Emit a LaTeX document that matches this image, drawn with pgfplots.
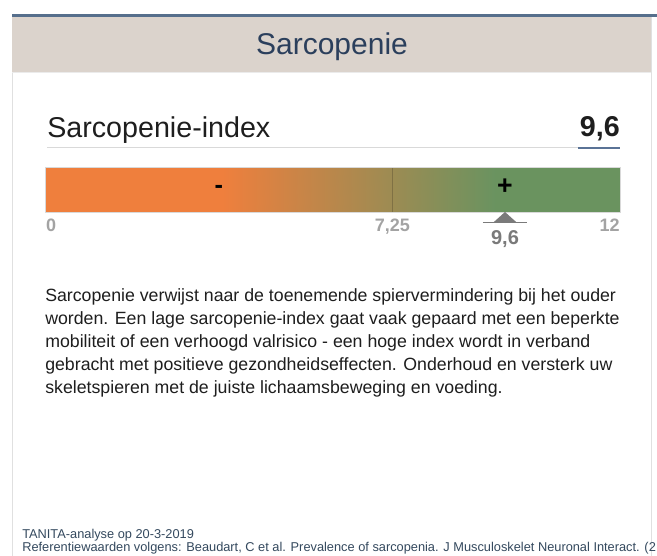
\documentclass[border=0pt]{standalone}
\usepackage{pgfplots}
\pgfplotsset{compat=1.18}
\usepackage{fontspec}
\setmainfont{Liberation Sans}
\definecolor{barorange}{HTML}{EF7F3D}
\definecolor{bargreen}{HTML}{6A935F}
\definecolor{headbg}{HTML}{DBD3CC}
\definecolor{topline}{HTML}{566F8C}
\definecolor{navy}{HTML}{2B3F5C}
\definecolor{ticklab}{HTML}{A3A3A3}
\definecolor{markgray}{HTML}{7A7A7A}
\definecolor{underblue}{HTML}{5A7396}
\definecolor{footc}{HTML}{34495E}
\definecolor{bodytext}{HTML}{1E1E1E}

\begin{document}
\begin{tikzpicture}[x=0.75pt,y=0.75pt]
\clip (0,0) rectangle (657,556);
\fill[white] (0,0) rectangle (657,556);
% card borders
\draw[black!12, line width=0.75pt] (12,0) -- (12,539);
\draw[black!12, line width=0.75pt] (651,0) -- (651,539);
% header band
\fill[headbg] (12,483) rectangle (651.4,539);
\fill[topline] (12,539) rectangle (657,542);
\draw[black!8, line width=0.75pt] (12,483) -- (651,483);
\node[navy, anchor=base, font=\fontsize{22.5}{26}\selectfont] at (332,501) {Sarcopenie};
% index line
\node[anchor=base west, inner sep=0pt, text=bodytext, font=\fontsize{21.5}{25}\selectfont] at (47,418) {Sarcopenie-index};
\node[anchor=base east, inner sep=0pt, text=bodytext, font=\fontsize{21.5}{25}\selectfont\bfseries] at (620,419) {9,6};
\draw[black!15, line width=0.75pt] (47,408) -- (620,408);
\draw[underblue, line width=1.5pt] (578,408) -- (620,408);
% bar axis
\coordinate (barsw) at (45,344);
\begin{axis}[
  at={(barsw)}, anchor=south west,
  width=431.25pt, height=33.75pt, scale only axis,
  xmin=0, xmax=12, ymin=0, ymax=1,
  hide axis, clip=false,
  colormap={og}{rgb255=(239,127,61) rgb255=(106,147,96)},
  point meta min=0, point meta max=1]
  \addplot[draw=none, fill=barorange] coordinates {(0,0)(3.7,0)(3.7,1)(0,1)};
  \addplot[patch, shader=interp, point meta=explicit] coordinates {
    (3.7,0) [0] (9.4,0) [1] (9.4,1) [1]
    (3.7,0) [0] (9.4,1) [1] (3.7,1) [0]};
  \addplot[draw=none, fill=bargreen] coordinates {(9.4,0)(12,0)(12,1)(9.4,1)};
  \addplot[black, opacity=0.18, line width=0.6pt] coordinates {(7.25,0)(7.25,1)};
  \addplot[black!15, line width=0.6pt] coordinates {(0,0)(12,0)(12,1)(0,1)(0,0)};
  % current value marker
  \addplot[draw=none, fill=markgray] coordinates {(9.37,-0.22)(9.6,0)(9.83,-0.22)};
  \addplot[markgray, line width=1.1pt] coordinates {(9.14,-0.23)(10.06,-0.23)};
  % labels
  \node[font=\fontsize{19}{21}\selectfont\bfseries] at (axis cs:3.63,0.5) {-};
  \node[font=\fontsize{20}{22}\selectfont\bfseries] at (axis cs:9.6,0.56) {+};
  \node[anchor=base west, inner sep=0pt, text=ticklab, font=\fontsize{13.5}{16}\selectfont\bfseries] at (axis cs:0.02,-0.44) {0};
  \node[anchor=base, inner sep=0pt, text=ticklab, font=\fontsize{13.5}{16}\selectfont\bfseries] at (axis cs:7.25,-0.44) {7,25};
  \node[anchor=base east, inner sep=0pt, text=ticklab, font=\fontsize{13.5}{16}\selectfont\bfseries] at (axis cs:12,-0.44) {12};
  \node[anchor=base, inner sep=0pt, text=markgray, font=\fontsize{15}{18}\selectfont\bfseries] at (axis cs:9.6,-0.73) {9,6};
\end{axis}
% paragraph
\begin{scope}[every node/.style={anchor=base west, inner sep=0pt, text=bodytext, font=\fontsize{13.3}{17}\selectfont}]
\node at (45,254) {Sarcopenie verwijst naar de toenemende spiervermindering bij het ouder};
\node at (45,231) {worden. Een lage sarcopenie-index gaat vaak gepaard met een beperkte};
\node at (45,208) {mobiliteit of een verhoogd valrisico - een hoge index wordt in verband};
\node at (45,185) {gebracht met positieve gezondheidseffecten. Onderhoud en versterk uw};
\node at (45,162) {skeletspieren met de juiste lichaamsbeweging en voeding.};
\end{scope}
% footer
\begin{scope}[every node/.style={anchor=base west, inner sep=0pt, text=footc, font=\fontsize{9.6}{11}\selectfont}]
\node at (22,17) {TANITA-analyse op 20-3-2019};
\node at (22,4.5) {Referentiewaarden volgens: Beaudart, C et al. Prevalence of sarcopenia. J Musculoskelet Neuronal Interact. (2};
\end{scope}
\end{tikzpicture}
\end{document}
